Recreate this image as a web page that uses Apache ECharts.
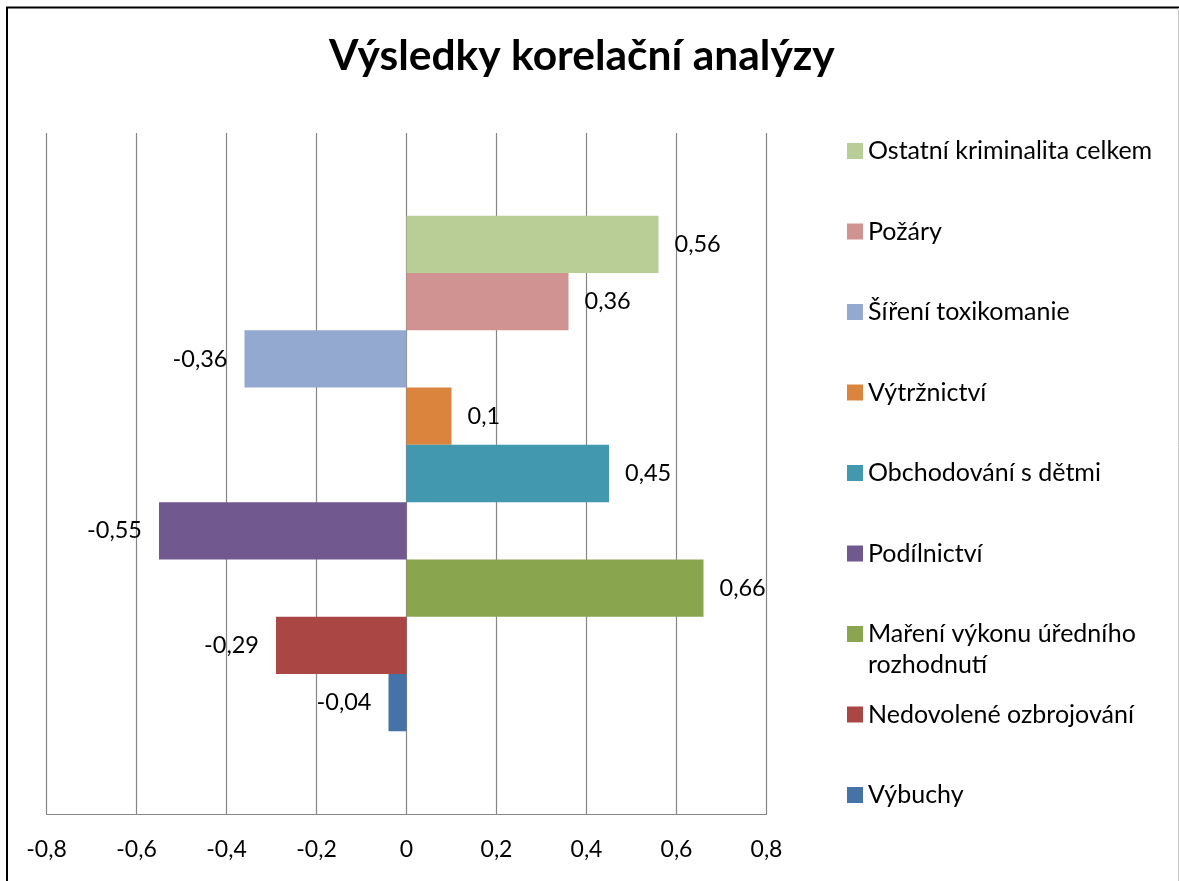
<!DOCTYPE html>
<html>
<head>
<meta charset="utf-8">
<script src="https://cdn.jsdelivr.net/npm/echarts@6/dist/echarts.min.js"></script>
<style>html,body{margin:0;padding:0;background:#fff}#c{width:1179px;height:881px}</style>
</head>
<body>
<div id="c"></div>
<script>
const titleText = 'Výsledky korelační analýzy';
const seriesNames = ['Ostatní kriminalita celkem','Požáry','Šíření toxikomanie','Výtržnictví','Obchodování s dětmi','Podílnictví','Maření výkonu úředního rozhodnutí','Nedovolené ozbrojování','Výbuchy'];
const values = [0.56, 0.36, -0.36, 0.1, 0.45, -0.55, 0.66, -0.29, -0.04];
const colors = ['#B9CD96','#D19392','#93A9CF','#DB843D','#4198AF','#71588F','#89A54E','#AA4643','#4572A7'];
const xMin = -0.8, xMax = 0.8, xInterval = 0.2;

const FONT = 'Lato';
const fmt = v => (Math.abs(v) < 1e-9 ? '0' : String(Math.round(v * 100) / 100).replace('.', ','));

const chart = echarts.init(document.getElementById('c'), null, {renderer: 'canvas'});

const legendCenter0 = 151, legendStep = 80.5, LH = 31;
const legends = seriesNames.map((name, i) => {
  const c = legendCenter0 + i * legendStep;
  const wrap = name === 'Maření výkonu úředního rozhodnutí';
  return {
    data: [name],
    orient: 'vertical',
    left: 847,
    top: wrap ? c - 1.5 * LH : c - LH / 2,
    padding: 0,
    itemWidth: 16,
    itemHeight: 16,
    icon: 'rect',
    selectedMode: false,
    formatter: wrap ? () => ' \nMaření výkonu úředního\nrozhodnutí' : undefined,
    textStyle: {fontFamily: FONT, fontSize: 25, lineHeight: LH, color: '#000'}
  };
});

const option = {
  backgroundColor: '#fff',
  animation: false,
  title: {
    text: titleText,
    left: 329,
    top: 35,
    padding: 0,
    textStyle: {fontFamily: FONT, fontWeight: 'bold', fontSize: 42.5, color: '#000'}
  },
  legend: legends,
  grid: {left: 46.5, right: 412.5, top: 133, bottom: 67, containLabel: false},
  xAxis: {
    type: 'value',
    min: xMin, max: xMax, interval: xInterval,
    axisLine: {show: true, lineStyle: {color: '#868686', width: 1.2}},
    axisTick: {show: false},
    splitLine: {show: true, lineStyle: {color: '#868686', width: 1.2}},
    axisLabel: {fontFamily: FONT, fontSize: 23, color: '#000', margin: 24, formatter: fmt}
  },
  yAxis: {
    type: 'category',
    data: [''],
    axisLine: {show: false},
    axisTick: {show: false},
    axisLabel: {show: false},
    splitLine: {show: false}
  },
  series: seriesNames.map((name, i) => ({
    name: name,
    type: 'bar',
    data: [values[i]],
    barGap: 0,
    barCategoryGap: '24.3%',
    itemStyle: {color: colors[i]},
    label: {
      show: true,
      position: values[i] >= 0 ? 'right' : 'left',
      distance: values[i] >= 0 ? 16 : 17,
      fontFamily: FONT, fontSize: 23.5, color: '#000',
      formatter: p => fmt(p.value)
    }
  })),
  graphic: [
    {type: 'rect', silent: true, shape: {x: 7, y: 7.5, width: 1200, height: 900}, style: {fill: 'none', stroke: '#000', lineWidth: 2}},
    {type: 'line', silent: true, shape: {x1: 1178.5, y1: 8, x2: 1178.5, y2: 881}, style: {stroke: '#c8c8c8', lineWidth: 1}}
  ]
};
chart.setOption(option);
</script>
</body>
</html>
